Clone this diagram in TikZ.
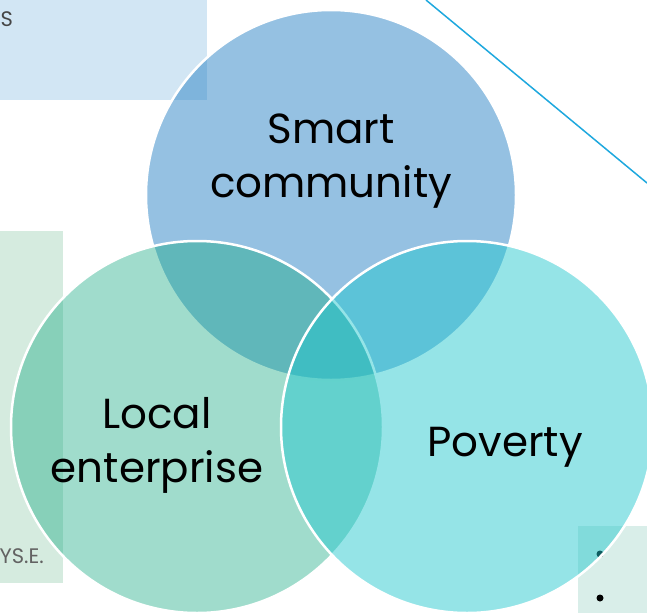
\documentclass[tikz,border=0pt]{standalone}
\usepackage{fontspec}
\newfontfamily\labelfont{Poppins}
\definecolor{rectblue}{RGB}{210,230,244}
\definecolor{rectgreen}{RGB}{213,235,223}
\definecolor{rectteal}{RGB}{217,238,233}
\definecolor{topc}{RGB}{43,131,197}
\definecolor{leftc}{RGB}{18,168,128}
\definecolor{rightc}{RGB}{30,198,205}
\definecolor{lineblue}{RGB}{30,168,222}
\definecolor{sidegray}{RGB}{70,70,70}
\tikzset{
  venn/.style={draw=white, line width=2.5pt},
  bigtext/.style={font=\labelfont\fontsize{42}{54}\selectfont, align=center, text=black, inner sep=0pt},
  sidetext/.style={font=\labelfont\fontsize{21}{24}\selectfont, text=sidegray, inner sep=0pt},
  bulletdot/.style={circle, fill=black, inner sep=0pt, minimum size=7pt}
}
\begin{document}
\begin{tikzpicture}[x=1pt,y=-1pt]
\useasboundingbox (0,0) rectangle (647,613);
% background panels
\fill[rectblue] (0,0) rectangle (207,100);
\fill[rectgreen] (0,231) rectangle (63,583);
\fill[rectteal] (578,526) rectangle (647,613);
\node[sidetext, anchor=base west] (s) at (0.5,27) {S};
\node[sidetext, anchor=base east, text=sidegray!85] (yse) at (44,563) {YS.E.};
\node[bulletdot] (b1) at (600,554) {};
\node[bulletdot] (b2) at (600,598) {};
% diagonal line
\coordinate (la) at (426,0);
\coordinate (lb) at (647,183);
\draw[lineblue, line width=1.5pt] (la) -- (lb);
% circles
\path[venn, fill=topc, fill opacity=0.5] (331,195) circle (185);
\path[venn, fill=leftc, fill opacity=0.4] (197,427) circle (186);
\path[venn, fill=rightc, fill opacity=0.47] (467,427) circle (186);
% labels
\node[bigtext, anchor=base] (smart) at (331,197) {Smart\\community};
\node[bigtext, anchor=base] (local) at (157,482) {Local\\enterprise};
\node[bigtext, anchor=base] (poverty) at (505,456) {Poverty};
\end{tikzpicture}
\end{document}
